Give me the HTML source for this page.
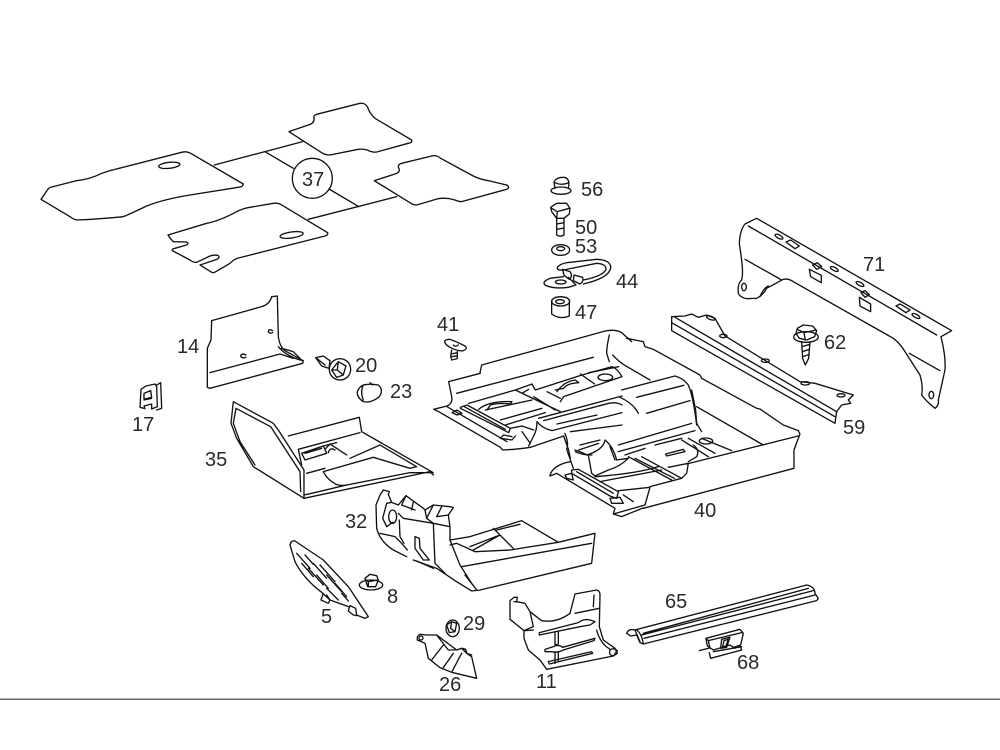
<!DOCTYPE html>
<html><head><meta charset="utf-8"><style>
html,body{margin:0;padding:0;background:#fff}
svg{display:block}
.d{fill:none;stroke:#111;stroke-width:4;stroke-linejoin:round;stroke-linecap:round}
text{font-family:"Liberation Sans",sans-serif;font-size:20px;fill:#2a2a2a}
</style></head><body>
<svg width="1000" height="750" viewBox="0 0 1000 750" xmlns="http://www.w3.org/2000/svg">
<rect width="1000" height="750" fill="#fff"/>

<!-- mats 37 -->
<g class="d" transform="translate(30,90) scale(.3333)">
<path d="M33 328L55 296Q60 292 70 290L140 272Q180 268 215 250L240 242L455 187Q470 183 482 190L640 282Q640 290 625 292L480 315Q400 328 350 348Q300 372 280 380Q200 388 140 390Q130 388 120 380Z"/>
<ellipse cx="418" cy="226" rx="32" ry="9" transform="rotate(-6 418 226)"/>
<path d="M777 125L835 105Q855 100 852 82Q850 76 860 73L990 40Q1005 38 1012 50Q1020 72 1035 85L1145 150Q1148 158 1135 160L1040 186Q1025 188 1012 180Q1000 176 985 178L900 195Q885 195 875 188Z"/>
<path d="M1033 272L1095 252Q1115 246 1105 232Q1105 222 1115 220L1210 197Q1222 196 1232 205L1330 258Q1350 268 1375 272L1430 285Q1442 292 1430 298L1295 335Q1285 335 1275 330Q1250 322 1225 326L1160 345Q1150 345 1140 338Z"/>
<path d="M414 435L530 400Q570 392 620 365Q640 355 660 352L730 340Q745 338 755 345L893 428Q895 436 885 438L630 503Q615 505 600 520Q575 535 552 548L545 547L510 525L555 510Q572 505 565 497Q555 493 540 498L500 517Q490 518 480 510L427 482Q425 476 435 475L470 465Q478 460 470 456L430 455Q420 445 414 435Z"/>
<ellipse cx="785" cy="435" rx="35" ry="9" transform="rotate(-8 785 435)"/>
<path d="M553 225L818 155M705 185L790 235M897 297L987 350M835 388L1100 320"/>
<circle cx="847" cy="265" r="60"/>
</g>

<!-- 40 floor: outer -->
<g class="d" transform="translate(430,310) scale(.3333)">
<path d="M80 250L490 142M155 165L530 62Q560 58 575 68L605 95M150 188L155 165M538 75Q530 110 530 130L538 155M548 135Q570 160 600 175L660 210"/>
<path d="M590 85L640 95L645 110L670 118L810 195L815 205L980 295L990 297L1060 345L1105 362L1110 372L1092 420L1092 475L640 595"/>
<path d="M800 290L1000 405M1105 378L770 462M575 240L735 198Q760 205 775 225Q790 260 800 345"/>
<path d="M620 262L762 226M650 310L780 272M570 262Q610 280 625 310"/>
</g>

<!-- 40 floor: rear -->
<g class="d" transform="translate(432,360) scale(.3333)">
<path d="M5 148L45 138Q65 130 58 105L50 65L145 40"/>
<path d="M5 148L20 155L205 262L212 270Q260 268 295 262L395 228M45 140L225 245"/>
<path d="M85 142L105 135L235 205L230 218L205 205L85 145ZM97 140L220 208M60 158L75 150L90 160L75 165Z"/>
<path d="M110 130L250 90L300 72L310 90L450 45L540 20Q555 25 570 50L395 110L385 125"/>
<path d="M140 148Q170 122 240 125L235 132Q200 128 175 135L165 150M160 150L300 120M205 180L330 145M220 195L340 158"/>
<path d="M250 90L385 155M270 100L290 88M305 110L370 150M345 95L385 115"/>
<path d="M375 95Q395 65 430 60L440 68Q405 70 395 85L370 90M445 42L488 72M470 38L560 20"/>
<ellipse cx="520" cy="52" rx="22" ry="10"/>
<path d="M320 175L570 108M315 185Q330 205 360 212L570 158M335 182L530 130Q555 125 570 135M375 192L495 165M415 215L570 195"/>
<path d="M315 185Q315 210 305 228L290 258M270 215L295 250M240 230L215 225L205 235L240 240L250 228M395 228L410 270L415 295"/>
<path d="M235 205L270 198L305 210M440 270L500 250M430 275Q450 285 480 285"/>
</g>

<!-- 40 floor: front -->
<g class="d" transform="translate(545,390) scale(.3333)">
<path d="M440 0L452 60L455 100L470 125M60 130Q72 160 65 178L85 235"/>
<path d="M105 165L165 150M90 180Q120 190 125 195Q175 180 180 150Q205 170 215 210L250 205Q225 230 190 240L150 258L140 250L130 195M195 170L210 210"/>
<path d="M220 165L440 100M220 185L450 122M240 195L300 175M250 200L380 270M270 205L388 265M290 200L410 265M330 165L410 145"/>
<path d="M362 192L415 178L420 185L365 198Z"/>
<ellipse cx="483" cy="153" rx="20" ry="9"/>
<path d="M410 150L490 200M430 145L510 190M445 165Q465 180 455 200L430 215M470 145L560 182M370 232L430 220L425 250L410 265L315 290"/>
<path d="M315 292L300 345M220 302L315 292M150 260Q280 250 340 230M165 275L350 240"/>
<path d="M80 240L100 238L220 305L215 325L195 318L80 250ZM95 245L205 310M60 255L80 250L85 270L65 265ZM195 325L225 322L235 340L200 340ZM235 315L265 335"/>
<path d="M15 255Q25 225 75 215M15 258L35 250L210 355L205 372L230 380L294 354M205 372L300 345"/>
</g>

<!-- 71, 59, 62 -->
<g class="d" transform="translate(660,210) scale(.3333)">
<path d="M290 25L875 362L843 380Q858 440 855 480Q845 525 835 570Q838 585 825 595Q800 575 785 555Q790 530 780 495L735 425Q720 400 700 385L400 215Q385 205 370 208L320 235Q310 255 290 265L260 266Q240 262 235 250Q232 220 245 210Q250 190 245 150L238 100Q240 60 255 42L290 25Z"/>
<path d="M265 48L830 375M255 148L365 210M748 430L840 482M300 260Q310 235 325 228"/>
<ellipse cx="252" cy="231" rx="7" ry="11"/>
<ellipse cx="814" cy="555" rx="7" ry="11"/>
<ellipse cx="357" cy="80" rx="13" ry="5" transform="rotate(28 357 80)"/>
<path d="M378 96L392 90L418 108L405 116Z"/>
<path d="M458 165L472 158L485 170L470 178Z"/>
<path d="M448 178L484 196L484 218L452 200Z"/>
<ellipse cx="523" cy="177" rx="13" ry="5" transform="rotate(28 523 177)"/>
<ellipse cx="600" cy="222" rx="13" ry="5" transform="rotate(28 600 222)"/>
<path d="M603 248L615 242L628 254L615 262Z"/>
<path d="M598 262L632 282L632 305L600 288Z"/>
<path d="M708 288L720 282L750 300L738 308Z"/>
<ellipse cx="768" cy="318" rx="13" ry="5" transform="rotate(28 768 318)"/>
<path d="M35 320L75 318L95 312L115 322L140 315L165 325L195 378L420 515L465 520L580 555L565 570L572 580L545 585L530 605L525 640L35 362Z"/>
<path d="M35 338L525 620M45 322L530 605"/>
<ellipse cx="152" cy="324" rx="13" ry="5" transform="rotate(20 152 324)"/>
<ellipse cx="190" cy="378" rx="11" ry="5"/>
<ellipse cx="316" cy="452" rx="12" ry="5"/>
<ellipse cx="436" cy="520" rx="13" ry="5"/>
<ellipse cx="543" cy="556" rx="12" ry="5"/>
<ellipse cx="438" cy="381" rx="37" ry="16"/>
<path d="M408 370L412 355L430 345L458 348L470 362L464 380L440 390L418 385ZM412 358L432 368L468 360M432 368L436 390"/>
<path d="M425 395L428 445L436 465L446 445L450 395M426 410L450 403M427 425L449 418M428 440L448 433"/>
</g>

<!-- 14,17,20,23,35 -->
<g class="d" transform="translate(130,290) scale(.3333)">
<path d="M232 292L232 175L243 150L245 92L395 50Q420 42 425 20L442 18L445 140Q450 175 470 185L520 212L518 220L240 295Z"/>
<path d="M240 248L450 192L490 205M445 170Q470 200 518 212M455 175L490 185L510 205"/>
<path d="M428 122Q415 115 415 125Q418 132 428 128M348 195Q335 188 332 198Q335 206 348 202"/>
<path d="M30 352L33 298L48 288L75 282L80 290L82 350L65 357L65 342L42 348L45 356ZM80 285L92 278L95 355L80 360M42 310L62 302L65 322L42 328ZM42 330L65 325"/>
<path d="M557 203L580 198L600 212L597 235L575 228ZM560 205L585 225"/>
<circle cx="630" cy="238" r="32"/>
<path d="M605 240L625 215L648 228L640 255L620 262ZM625 215L622 240L605 240M622 240L640 255"/>
<path d="M700 285Q720 280 745 285Q762 300 748 320Q725 340 700 335Q680 322 682 305Q688 290 700 285ZM700 285Q690 305 700 330M720 278L728 285"/>
<path d="M310 335L430 400L445 420L522 540L522 625L370 530L320 445L303 400L310 335ZM318 355L310 400L330 455L375 525M318 355L422 410L510 545L512 605"/>
<path d="M522 625L900 545L910 555M522 615L545 610L650 585L840 548L910 548L695 425L688 382L475 438M690 428L505 478L515 525M530 550L585 535"/>
<path d="M515 490L580 468L590 490L525 510ZM525 490L575 475M585 478L600 462L650 495M595 488Q600 470 615 480M580 468L620 458"/>
<path d="M660 505L750 465L860 530L840 535L730 502L580 545Q590 565 610 578Q625 590 650 585"/>
</g>

<!-- 32 -->
<g class="d" transform="translate(280,485) scale(.3333)">
<path d="M510 165L570 155L725 107L835 172L945 145L935 235L600 315L575 318L530 290L470 250L400 225"/>
<path d="M510 165L540 240L575 295L590 315M510 180L530 175L585 200L690 195L835 172M545 245L935 175M555 270L590 315M640 130L660 150L570 185M650 135L720 118M660 150L700 190M660 150L580 195"/>
</g>
<g class="d" transform="translate(370,485) scale(.3333)">
<path d="M40 15L58 20L55 28L65 52L85 60L108 32L160 70L165 75L190 60L240 65L250 68L235 90L240 125L240 165"/>
<path d="M40 15L30 30L18 60L20 130Q30 170 70 195L110 215M140 228L190 250"/>
<path d="M100 100L190 115L240 125M190 115L195 235L225 265M65 52L50 55L38 100L50 125L68 112M30 145L75 155L95 175L112 195M88 105L90 155L102 175M135 155L148 160L150 190L178 225L160 225L135 190ZM108 32L95 60L135 75M130 50L125 75M100 100L85 85M165 75L170 100L190 115M190 60L170 100M215 65L200 95L235 90"/>
<ellipse cx="68" cy="95" rx="12" ry="20"/>
</g>

<!-- 5, 8 -->
<g class="d" transform="translate(285,535) scale(.3333)">
<path d="M15 30Q18 15 30 18L115 75L190 155L250 245L240 250L215 240L212 220L195 212L190 228L205 240L215 242M15 30L30 80Q55 130 110 172L135 195L190 215M115 175L108 195L130 205L135 195L125 180"/>
<path d="M35 55L75 100M60 60L85 88M50 85L85 125M85 85L125 130M70 100L115 150M105 90L150 140M95 120L130 160M125 120L170 170M125 160L160 195M150 145L185 185M170 175L190 198"/>
<ellipse cx="258" cy="150" rx="35" ry="15"/>
<path d="M240 130L255 118L275 122L280 135L272 155L248 155ZM240 132L250 140L278 135M250 140L250 155"/>
</g>

<!-- 29,26 -->
<g class="d" transform="translate(280,485) scale(.3333)">
<ellipse cx="518" cy="430" rx="20" ry="25"/>
<path d="M500 420L515 410L530 415L525 440L508 443ZM515 410L512 430L525 440"/>
<path d="M440 450L420 448Q410 452 412 465L435 475L445 520L480 548L515 562L590 580L575 515L560 505L545 490L530 495L470 450ZM470 450L505 495L525 495M455 525L490 480M490 548L520 505M515 562L545 505M545 490Q560 490 560 505L575 510"/>
<circle cx="423" cy="459" r="6"/>
</g>

<!-- 56,50,53,44,47 -->
<g class="d" transform="translate(500,170) scale(.3333)">
<path d="M165 55L162 35Q170 22 190 22Q205 22 207 40L205 55M165 38Q185 48 207 38"/>
<ellipse cx="183" cy="62" rx="30" ry="11"/>
<path d="M155 125L152 112L170 100L200 100L210 115L208 132L192 145L170 145L155 125ZM155 115L172 125L208 115M172 125L170 145M170 145L170 195Q180 202 192 195L192 145M170 162L192 158M170 178L192 174"/>
<ellipse cx="182" cy="240" rx="27" ry="16"/>
<ellipse cx="182" cy="236" rx="12" ry="6"/>
<path d="M172 292Q170 302 190 300L290 280Q320 282 318 298Q310 318 250 330M172 292Q180 282 200 278L290 268Q335 270 332 295Q325 325 250 342"/>
<path d="M190 320L150 325Q125 335 135 345Q160 358 205 352L228 345L205 322"/>
<ellipse cx="182" cy="336" rx="16" ry="6"/>
<path d="M188 298L210 305Q220 318 208 328L192 316ZM222 315L248 322Q252 335 240 342L220 332Z"/>
<path d="M155 392L155 432Q180 450 208 438L208 392"/>
<ellipse cx="182" cy="394" rx="27" ry="14"/>
<ellipse cx="180" cy="395" rx="13" ry="6"/>
</g>

<!-- 41 -->
<g class="d" transform="translate(430,310) scale(.3333)">
<path d="M60 88Q80 95 105 108Q115 115 100 122Q85 125 60 112Q40 100 45 92Q50 88 60 88ZM65 120L62 138L65 150L82 146L82 125M63 132L82 128M65 140L82 137M70 105Q75 112 85 105"/>
</g>

<!-- 65,68,11 -->
<g class="d" transform="translate(500,570) scale(.3333)">
<path d="M380 190Q385 175 405 180L920 45Q945 50 945 70L955 85L950 92L430 222L420 218L410 195L392 198L380 190Z"/>
<path d="M405 180L420 215M410 180Q425 190 430 222M425 195L940 62M432 205L945 75M430 190L925 55"/>
<path d="M618 205L720 178L730 190L722 225L700 232L690 225L640 240L622 228L618 205ZM618 205L625 212L725 188M625 212L630 235M665 208L690 202L680 232L662 235ZM672 212L685 208L678 228L668 230Z"/>
<path d="M598 242L625 235M628 248L632 265L725 240L720 225M720 225L705 235M640 245L725 230"/>
<path d="M30 148L30 92L42 82L52 82L50 95L75 100L90 125L125 152Q170 160 210 130L225 72L290 60Q300 62 300 75L298 170L310 210L345 235L352 250L340 258L140 298L120 270L85 240L72 205L72 182L30 148Z"/>
<path d="M42 95L52 95M72 182L100 170L90 125M72 182L100 180M225 130L298 115"/>
<path d="M118 188L235 158Q250 145 270 150L285 155L270 165L240 170L118 195ZM165 188L165 225L175 222L175 185"/>
<path d="M135 238L160 230Q175 222 188 232L285 205L282 212L190 240Q170 250 155 245L135 245ZM165 245L165 280M175 245L175 275"/>
<path d="M145 275L275 245L278 250L148 282ZM330 240Q340 232 352 242L340 258Q325 255 330 240ZM290 180Q300 220 330 238M282 75L280 110"/>
</g>

<!-- labels -->
<g>
<text x="302" y="186">37</text>
<text x="581" y="196">56</text>
<text x="575" y="234">50</text>
<text x="575" y="253">53</text>
<text x="616" y="288">44</text>
<text x="575" y="319">47</text>
<text x="437" y="331">41</text>
<text x="863" y="271">71</text>
<text x="824" y="349">62</text>
<text x="843" y="434">59</text>
<text x="177" y="353">14</text>
<text x="355" y="372">20</text>
<text x="390" y="398">23</text>
<text x="132" y="431">17</text>
<text x="205" y="466">35</text>
<text x="345" y="528">32</text>
<text x="387" y="603">8</text>
<text x="321" y="623">5</text>
<text x="463" y="630">29</text>
<text x="439" y="691">26</text>
<text x="536" y="688">11</text>
<text x="665" y="608">65</text>
<text x="737" y="669">68</text>
<text x="694" y="517">40</text>
</g>
<rect x="0" y="698.5" width="1000" height="1.5" fill="#666"/>
</svg>
</body></html>
